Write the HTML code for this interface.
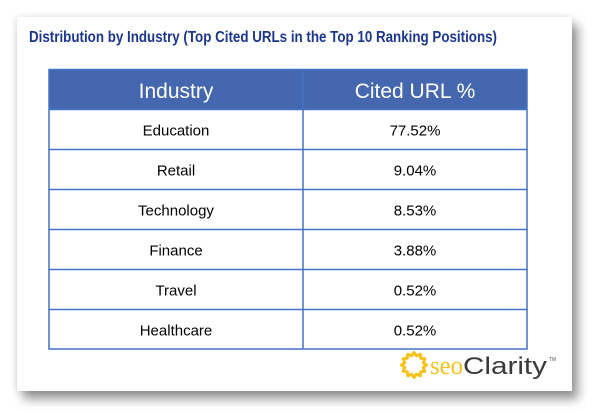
<!DOCTYPE html>
<html>
<head>
<meta charset="utf-8">
<style>
  html, body { margin:0; padding:0; background:#ffffff; }
  body { width:600px; height:412px; position:relative; overflow:hidden; }
  .card {
    position:absolute; left:17px; top:17px; width:555px; height:374px;
    background:#ffffff;
    box-shadow: 6px 8px 10px rgba(0,0,0,0.42), -1px 0 6px rgba(0,0,0,0.12);
  }
  svg { position:absolute; left:0; top:0; }
</style>
</head>
<body>
<div class="card"></div>
<svg width="600" height="412" viewBox="0 0 600 412" xmlns="http://www.w3.org/2000/svg">
  <!-- Title -->
  <text x="29" y="42" font-family="Liberation Sans, sans-serif" font-weight="bold" font-size="16" fill="#1b3690" textLength="468" lengthAdjust="spacingAndGlyphs">Distribution by Industry (Top Cited URLs in the Top 10 Ranking Positions)</text>

  <!-- Table header -->
  <rect x="49" y="69.5" width="478" height="40" fill="#4467b0"/>
  <!-- Grid -->
  <g stroke="#4472c4" stroke-width="1.5" fill="none">
    <rect x="49" y="69.5" width="478" height="279.5"/>
    <line x1="49" y1="109.5" x2="527" y2="109.5"/>
    <line x1="49" y1="149.5" x2="527" y2="149.5"/>
    <line x1="49" y1="189.5" x2="527" y2="189.5"/>
    <line x1="49" y1="229.5" x2="527" y2="229.5"/>
    <line x1="49" y1="269.5" x2="527" y2="269.5"/>
    <line x1="49" y1="309.5" x2="527" y2="309.5"/>
    <line x1="303" y1="69.5" x2="303" y2="349"/>
  </g>

  <!-- Header text -->
  <g font-family="Liberation Sans, sans-serif" font-size="21" fill="#ffffff" text-anchor="middle">
    <text x="176" y="98">Industry</text>
    <text x="415" y="98">Cited URL %</text>
  </g>

  <!-- Body text -->
  <g font-family="Liberation Sans, sans-serif" font-size="15" fill="#000000" text-anchor="middle">
    <text x="176" y="135.5">Education</text>
    <text x="415" y="135.5">77.52%</text>
    <text x="176" y="175.5">Retail</text>
    <text x="415" y="175.5">9.04%</text>
    <text x="176" y="215.5">Technology</text>
    <text x="415" y="215.5">8.53%</text>
    <text x="176" y="255.5">Finance</text>
    <text x="415" y="255.5">3.88%</text>
    <text x="176" y="295.5">Travel</text>
    <text x="415" y="295.5">0.52%</text>
    <text x="176" y="335.5">Healthcare</text>
    <text x="415" y="335.5">0.52%</text>
  </g>

  <!-- Logo -->
  <polygon fill="none" stroke="#f6c21a" stroke-width="3" stroke-linejoin="round"
    points="426.5,365 423.2,367.5 424.8,371.3 420.7,371.7 420.3,375.8 416.5,374.2 414,377.5 411.5,374.2 407.8,375.8 407.3,371.7 403.2,371.3 404.8,367.5 401.5,365 404.8,362.5 403.2,358.8 407.3,358.3 407.8,354.2 411.5,355.8 414,352.5 416.5,355.8 420.3,354.2 420.7,358.3 424.8,358.8 423.2,362.5"/>
  <text x="430" y="374" font-family="Liberation Serif, serif" font-size="26" fill="#f6c21a" textLength="33" lengthAdjust="spacingAndGlyphs">seo</text>
  <text x="463" y="374" font-family="Liberation Sans, sans-serif" font-size="24" fill="#3a3a3a" textLength="84" lengthAdjust="spacingAndGlyphs">Clarity</text>
  <text x="549" y="361" font-family="Liberation Sans, sans-serif" font-size="5" fill="#555555">TM</text>
</svg>
</body>
</html>
